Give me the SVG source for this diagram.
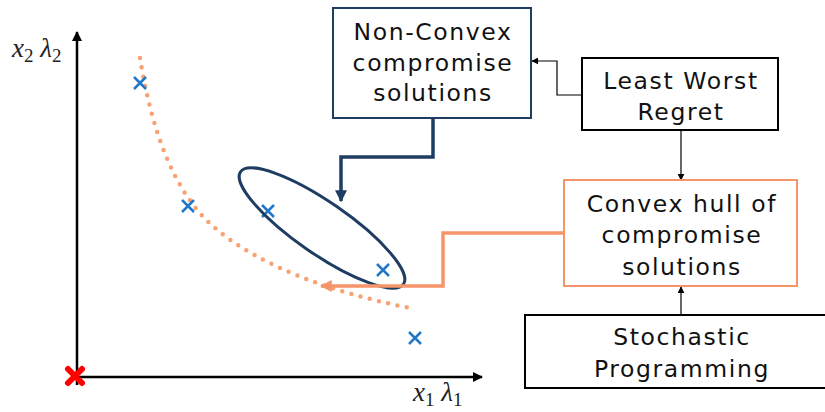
<svg xmlns="http://www.w3.org/2000/svg" width="825" height="412" viewBox="0 0 825 412">
  <defs>
    <marker id="arrBlack" viewBox="0 0 10 10" refX="9" refY="5" markerWidth="7" markerHeight="7" orient="auto" markerUnits="userSpaceOnUse">
      <path d="M0,0 L10,5 L0,10 z" fill="#000"/>
    </marker>
    <marker id="arrAxis" viewBox="0 0 10 10" refX="9" refY="5" markerWidth="10" markerHeight="10" orient="auto" markerUnits="userSpaceOnUse">
      <path d="M0,0 L10,5 L0,10 z" fill="#000"/>
    </marker>
    <marker id="arrNavy" viewBox="0 0 10 10" refX="9" refY="5" markerWidth="12" markerHeight="12" orient="auto" markerUnits="userSpaceOnUse">
      <path d="M0,0 L10,5 L0,10 z" fill="#1F3D63"/>
    </marker>
    <marker id="arrOrange" viewBox="0 0 10 10" refX="9" refY="5" markerWidth="12" markerHeight="12" orient="auto" markerUnits="userSpaceOnUse">
      <path d="M0,0 L10,5 L0,10 z" fill="#F7956A"/>
    </marker>
  </defs>
  <style>
    .lbl { font-family: "DejaVu Sans", Verdana, sans-serif; font-size: 23.5px; letter-spacing: 1.6px; fill: #111; text-anchor: middle; }
    .axl { font-family: "Liberation Serif", serif; font-style: italic; font-size: 27px; fill: #222; }
    .sub { font-size: 19px; font-style: normal; }
    .pt { stroke: #1F78C8; stroke-width: 2.5; fill: none; }
    .box { fill: #fff; stroke-width: 2; }
  </style>

  <!-- axes -->
  <g id="axes">
    <line x1="77" y1="385" x2="77" y2="32" stroke="#000" stroke-width="2.5" marker-end="url(#arrAxis)"/>
    <line x1="77" y1="377" x2="482" y2="377" stroke="#000" stroke-width="2.5" marker-end="url(#arrAxis)"/>
    <text class="axl" x="12" y="57">x<tspan class="sub" dy="5">2</tspan><tspan dy="-5"> λ</tspan><tspan class="sub" dy="5">2</tspan></text>
    <text class="axl" x="413" y="401">x<tspan class="sub" dy="5">1</tspan><tspan dy="-5"> λ</tspan><tspan class="sub" dy="5">1</tspan></text>
    <path d="M68,369 L82,383 M82,369 L68,383" stroke="#FF0000" stroke-width="6" stroke-linecap="round"/>
  </g>

  <!-- dotted trade-off curve -->
  <g id="curve">
    <path d="M140,58 C150,120 170,190 215,228 C260,266 330,292 410,308" fill="none" stroke="#F8A274" stroke-width="4.5" stroke-linecap="round" stroke-dasharray="0 9.5"/>
  </g>

  <!-- solution points -->
  <g id="points">
    <path class="pt" d="M134,77 L146,89 M146,77 L134,89"/>
    <path class="pt" d="M182,200 L194,212 M194,200 L182,212"/>
    <path class="pt" d="M262,205 L274,217 M274,205 L262,217"/>
    <path class="pt" d="M377,264 L389,276 M389,264 L377,276"/>
    <path class="pt" d="M409,332 L421,344 M421,332 L409,344"/>
  </g>

  <!-- non-convex cluster -->
  <g id="cluster">
    <ellipse cx="322" cy="228" rx="99" ry="26" transform="rotate(34.6 322 228)" fill="none" stroke="#1F3D63" stroke-width="3"/>
  </g>

  <!-- connectors -->
  <g id="connectors" fill="none">
    <polyline points="433,118 433,157 341,157 341,201" stroke="#1F3D63" stroke-width="3.5" marker-end="url(#arrNavy)"/>
    <polyline points="564,233 443,233 443,286 321,286" stroke="#F7956A" stroke-width="3.5" marker-end="url(#arrOrange)"/>
    <polyline points="582,95 557,95 557,61 532,61" stroke="#000" stroke-width="1.2" marker-end="url(#arrBlack)"/>
    <line x1="681" y1="130" x2="681" y2="180" stroke="#000" stroke-width="1.2" marker-end="url(#arrBlack)"/>
    <line x1="681" y1="315" x2="681" y2="287" stroke="#000" stroke-width="1.2" marker-end="url(#arrBlack)"/>
  </g>

  <g id="nonconvex">
    <rect class="box" x="333" y="8" width="198" height="110" stroke="#1F3D63" stroke-width="2.5"/>
    <text class="lbl" x="433" y="40">Non-Convex</text>
    <text class="lbl" x="433" y="71">compromise</text>
    <text class="lbl" x="433" y="101">solutions</text>
  </g>

  <g id="lwr">
    <rect class="box" x="582" y="58" width="196" height="72" stroke="#000"/>
    <text class="lbl" x="681" y="89">Least Worst</text>
    <text class="lbl" x="681" y="120">Regret</text>
  </g>

  <g id="convexhull">
    <rect class="box" x="564" y="180" width="233" height="106" stroke="#F7956A"/>
    <text class="lbl" x="682" y="212">Convex hull of</text>
    <text class="lbl" x="682" y="243">compromise</text>
    <text class="lbl" x="682" y="275">solutions</text>
  </g>

  <g id="stochastic">
    <rect class="box" x="525" y="315" width="310" height="73" stroke="#000"/>
    <text class="lbl" x="682" y="345">Stochastic</text>
    <text class="lbl" x="682" y="377">Programming</text>
  </g>
</svg>
